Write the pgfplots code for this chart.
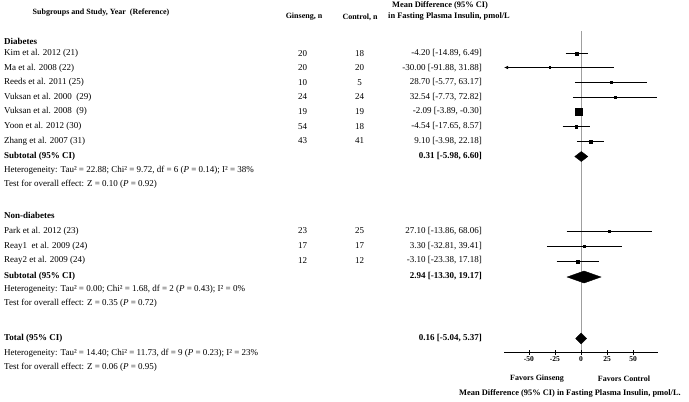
\documentclass[border=0pt]{standalone}
\usepackage{fontspec}
\setmainfont{Liberation Serif}
\usepackage{pgfplots}
\pgfplotsset{compat=1.18}
\usetikzlibrary{arrows.meta}

% one row of the table: y, study, ginseng n, control n, estimate with CI
\newcommand\row[5]{%
  \node[txt] at (4,-#1) {#2};
  \node[txt,anchor=center] at (302.5,-#1) {#3};
  \node[txt,anchor=center] at (359.5,-#1) {#4};
  \node[txt,anchor=east] at (482,-#1) {#5};}

\begin{document}
\begin{tikzpicture}[x=1pt,y=1pt,
    txt/.style={anchor=west,inner sep=0pt,font=\fontsize{9}{10}\selectfont},
    hd/.style={anchor=center,inner sep=0pt,font=\bfseries\fontsize{8}{9}\selectfont}]
\path[use as bounding box] (0,0) rectangle (689,-402);

% column headers
\node[hd] at (101,-13) {Subgroups and Study, Year\ \ (Reference)};
\node[hd] at (304,-17) {Ginseng, n};
\node[hd] at (360,-17) {Control, n};
\node[hd,anchor=west,font=\bfseries\fontsize{8.4}{9}\selectfont] at (392,-5) {Mean Difference (95\% CI)};
\node[hd,anchor=west,font=\bfseries\fontsize{8.4}{9}\selectfont] at (388,-17) {in Fasting Plasma Insulin, pmol/L};

% diabetes
\node[txt,font=\bfseries\fontsize{9}{10}\selectfont] at (4,-41) {Diabetes};
\row{53.5}{Kim et al. 2012 (21)}{20}{18}{-4.20 [-14.89, 6.49]}
\row{68}{Ma et al. 2008 (22)}{20}{20}{-30.00 [-91.88, 31.88]}
\row{82.5}{Reeds et al. 2011 (25)}{10}{5}{28.70 [-5.77, 63.17]}
\row{97}{Vuksan et al. 2000\ \ (29)}{24}{24}{32.54 [-7.73, 72.82]}
\row{111.5}{Vuksan et al. 2008\ \ (9)}{19}{19}{-2.09 [-3.89, -0.30]}
\row{126.5}{Yoon et al. 2012 (30)}{54}{18}{-4.54 [-17.65, 8.57]}
\row{141}{Zhang et al. 2007 (31)}{43}{41}{9.10 [-3.98, 22.18]}
\begin{scope}[txt/.append style={font=\bfseries\fontsize{9}{10}\selectfont}]
\row{156.5}{Subtotal (95\% CI)}{}{}{0.31 [-5.98, 6.60]}
\end{scope}
\node[txt] at (4,-170) {Heterogeneity: Tau² = 22.88; Chi² = 9.72, df = 6 (\textit{P} = 0.14); I² = 38\%};
\node[txt] at (4,-184.5) {Test for overall effect: Z = 0.10 (\textit{P} = 0.92)};

% non-diabetes
\node[txt,font=\bfseries\fontsize{9}{10}\selectfont] at (4,-215) {Non-diabetes};
\row{231}{Park et al. 2012 (23)}{23}{25}{27.10 [-13.86, 68.06]}
\row{246}{Reay1\ \ et al. 2009 (24)}{17}{17}{3.30 [-32.81, 39.41]}
\row{260.5}{Reay2 et al. 2009 (24)}{12}{12}{-3.10 [-23.38, 17.18]}
\begin{scope}[txt/.append style={font=\bfseries\fontsize{9}{10}\selectfont}]
\row{276}{Subtotal (95\% CI)}{}{}{2.94 [-13.30, 19.17]}
\end{scope}
\node[txt] at (4,-289.5) {Heterogeneity: Tau² = 0.00; Chi² = 1.68, df = 2 (\textit{P} = 0.43); I² = 0\%};
\node[txt] at (4,-303.5) {Test for overall effect: Z = 0.35 (\textit{P} = 0.72)};

% total
\begin{scope}[txt/.append style={font=\bfseries\fontsize{9}{10}\selectfont}]
\row{338.5}{Total (95\% CI)}{}{}{0.16 [-5.04, 5.37]}
\end{scope}
\node[txt] at (4,-353) {Heterogeneity: Tau² = 14.40; Chi² = 11.73, df = 9 (\textit{P} = 0.23); I² = 23\%};
\node[txt] at (4,-367) {Test for overall effect: Z = 0.06 (\textit{P} = 0.95)};

% forest plot, y is the row position from the top
\begin{axis}[at={(504pt,-402pt)}, anchor=south west, scale only axis,
    width=154pt, height=402pt, xmin=-74, xmax=74, ymin=0, ymax=402,
    y dir=reverse, hide axis, clip=false]
  \addplot[gray!75, line width=0.9pt] coordinates {(0,31) (0,352)};
  % confidence intervals
  \addplot[black, line width=0.7pt] coordinates {(-14.89,53.5) (6.49,53.5)};
  \addplot[black, line width=0.7pt, {Latex[length=4pt,width=3.5pt]}-] coordinates {(-74,67.5) (31.88,67.5)};
  \addplot[black, line width=0.7pt] coordinates {(-5.77,82.5) (63.17,82.5)};
  \addplot[black, line width=0.7pt] coordinates {(-7.73,97) (72.82,97)};
  \addplot[black, line width=0.7pt] coordinates {(-3.89,111.5) (-0.30,111.5)};
  \addplot[black, line width=0.7pt] coordinates {(-17.65,126.5) (8.57,126.5)};
  \addplot[black, line width=0.7pt] coordinates {(-3.98,141.5) (22.18,141.5)};
  \addplot[black, line width=0.7pt] coordinates {(-13.86,231.5) (68.06,231.5)};
  \addplot[black, line width=0.7pt] coordinates {(-32.81,246.5) (39.41,246.5)};
  \addplot[black, line width=0.7pt] coordinates {(-23.38,261.5) (17.18,261.5)};
  % study weights as boxes
  \addplot[only marks, mark=square*, black, mark size=1.8pt] coordinates {(-4.20,53.5)};
  \addplot[only marks, mark=square*, black, mark size=0.9pt] coordinates {(-30.00,67.5) (28.70,82.5) (32.54,97) (27.10,231.5) (3.30,246.5)};
  \addplot[only marks, mark=square*, black, mark size=3.7pt] coordinates {(-2.09,111.5)};
  \addplot[only marks, mark=square*, black, mark size=1.4pt] coordinates {(-4.54,126.5) (9.10,141.5) (-3.10,261.5)};
  % pooled estimates
  \addplot[fill=black, draw=black] coordinates {(-5.98,156.5) (0.31,151.5) (6.60,156.5) (0.31,161.5)} -- cycle;
  \addplot[fill=black, draw=black] coordinates {(-13.30,277) (2.94,271) (19.17,277) (2.94,283)} -- cycle;
  \addplot[fill=black, draw=black] coordinates {(-5.04,338.5) (0.16,333) (5.37,338.5) (0.16,344)} -- cycle;
\end{axis}

% x axis
\begin{axis}[at={(504pt,-352pt)}, anchor=south west, scale only axis,
    width=154pt, height=20pt, xmin=-74, xmax=74, ymin=0, ymax=1,
    axis x line*=bottom, axis y line=none,
    x axis line style={-, line width=0.7pt},
    xtick={-50,-25,0,25,50}, xticklabels={-50,-25,0,25,50},
    tick align=center, major tick length=5pt,
    tick style={black, line width=0.7pt},
    xticklabel style={font=\bfseries\fontsize{7.5}{8}\selectfont, inner sep=1pt, yshift=-1pt}]
  \addplot[draw=none] coordinates {(0,0)};
\end{axis}

\node[hd] at (537,-379) {Favors Ginseng};
\node[hd] at (624,-379) {Favors Control};
\node[hd,font=\bfseries\fontsize{8.4}{9}\selectfont] at (570,-393) {Mean Difference (95\% CI) in Fasting Plasma Insulin, pmol/L.};
\end{tikzpicture}
\end{document}
